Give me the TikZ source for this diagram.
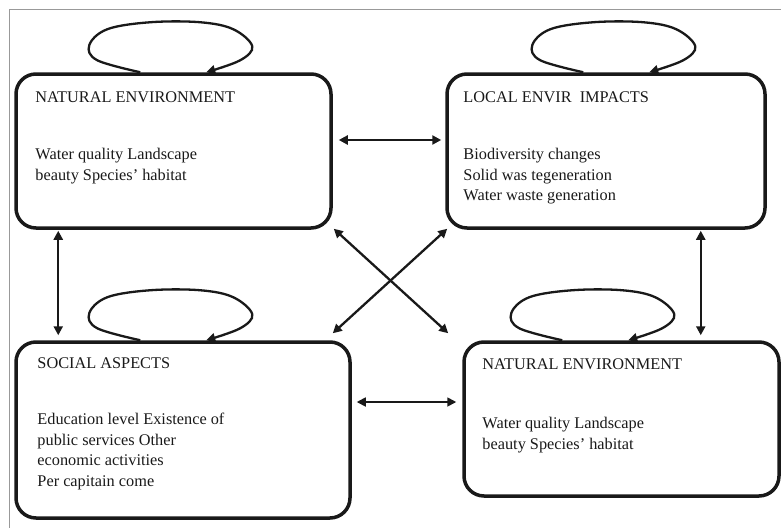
\documentclass[tikz,border=0pt]{standalone}
\usepackage{fontspec}
\setmainfont{Liberation Serif}
\usetikzlibrary{arrows.meta, positioning, calc}
\tikzstyle{block}    = [rectangle, rounded corners=20pt, draw=black!90, line width=3.5pt, inner sep=0pt]
\tikzstyle{head}     = [anchor=north west, inner sep=0pt, text=black!90, font=\fontsize{16.3}{20}\selectfont]
\tikzstyle{items}    = [anchor=north west, inner sep=0pt, align=left, text=black!90,
                        font=\fontsize{16.3}{20.5}\selectfont]
\tikzstyle{arrow}    = [line width=2.3pt, draw=black!90, <->, >={Triangle[length=9pt,width=9pt]}]
\tikzstyle{selfloop} = [line width=2.3pt, draw=black!90, ->, >={Triangle[length=9pt,width=9pt]}]

\begin{document}
\begin{tikzpicture}[x=1pt, y=-1pt]
  \useasboundingbox (0,0) rectangle (781,527);
  \draw[black!40, line width=1pt] (9,540) -- (9,10) -- (790,10);

  % The four boxes
  \node (ne1)    [block, minimum width=315pt, minimum height=154pt] at (173.5,151) {};
  \node (local)  [block, minimum width=318pt, minimum height=154pt] at (606,151) {};
  \node (social) [block, minimum width=334pt, minimum height=176pt] at (183,430) {};
  \node (ne2)    [block, minimum width=315pt, minimum height=154pt] at (621.5,419) {};

  % Texts
  \node (ne1h)    [head, below right=19pt and 21pt of ne1.north west] {NATURAL ENVIRONMENT};
  \node (ne1b)    [items, below right=76pt and 21pt of ne1.north west]
                  {Water quality Landscape\\ beauty Species' habitat};
  \node (localh)  [head, below right=19pt and 18pt of local.north west] {LOCAL ENVIR\ \ IMPACTS};
  \node (localb)  [items, below right=76pt and 18pt of local.north west]
                  {Biodiversity changes\\ Solid was tegeneration\\ Water waste generation};
  \node (socialh) [head, below right=17pt and 23pt of social.north west] {SOCIAL ASPECTS};
  \node (socialb) [items, below right=73pt and 23pt of social.north west]
                  {Education level Existence of\\ public services Other\\ economic activities\\ Per capitain come};
  \node (ne2h)    [head, below right=18pt and 20pt of ne2.north west] {NATURAL ENVIRONMENT};
  \node (ne2b)    [items, below right=77pt and 20pt of ne2.north west]
                  {Water quality Landscape\\ beauty Species' habitat};

  % Self loops
  \foreach \b/\s in {ne1/126, local/138, social/126, ne2/100} {
    \begin{scope}[shift={([xshift=\s pt]\b.north west)}]
      \draw[selfloop] plot[smooth, tension=0.6] coordinates
        {(0,0) (-43,-12) (-51,-27) (-33,-43) (10,-50) (60,-50) (93,-43) (112,-26) (100,-12) (66,0)};
    \end{scope}
  }

  % Links between boxes
  \draw[arrow, shorten <=6pt, shorten >=4pt] ([yshift=11pt]ne1.east) -- ([yshift=11pt]local.west);
  \draw[arrow, line width=1.7pt, shorten <=5pt, shorten >=6pt] ([yshift=28pt]social.east) -- ([yshift=17pt]ne2.west);
  \draw[arrow, shorten <=1pt, shorten >=5pt] ([xshift=44pt]ne1.south west) -- ([xshift=44pt]social.north west);
  \draw[arrow, shorten <=1pt, shorten >=5pt] ([xshift=-66pt]local.south east) -- ([xshift=-80pt]ne2.north east);
  \draw[arrow] ([shift={(1,-1)}]ne1.south east) -- ([shift={(-14,-7)}]ne2.north west);
  \draw[arrow] ([shift={(2,-1)}]local.south west) -- ([shift={(-19,-7)}]social.north east);

\end{tikzpicture}
\end{document}
